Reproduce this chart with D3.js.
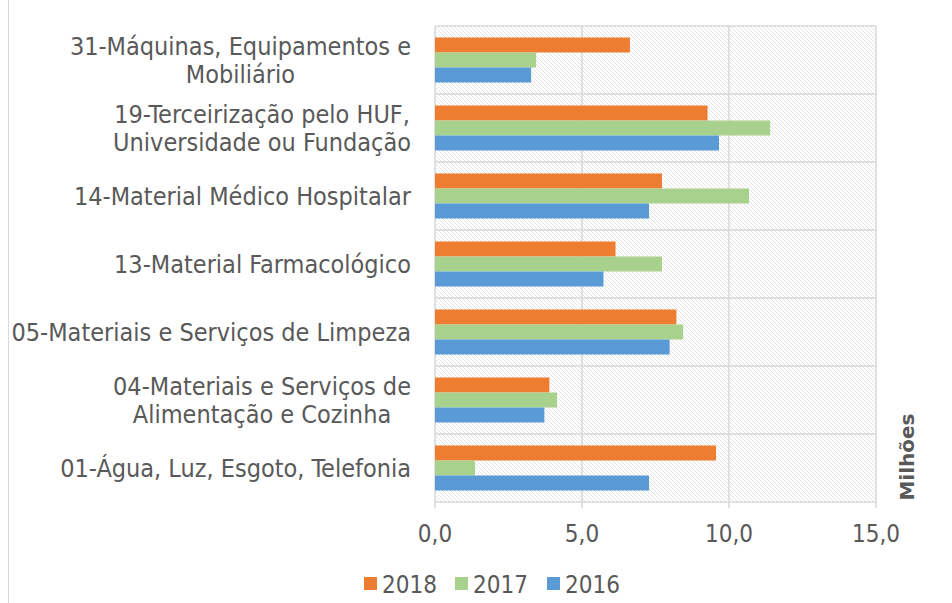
<!DOCTYPE html>
<meta charset="utf-8">
<html>
<head>
  <script src="https://d3js.org/d3.v7.min.js"></script>
  <style>
    body { margin: 0; background: #fff; }
    text { font-family: 'DejaVu Sans Condensed', 'DejaVu Sans', sans-serif; font-stretch: condensed; fill: #595959; }
    .title { font-family: 'DejaVu Sans', sans-serif; font-stretch: normal; }
    .grid line { stroke: #d9d9d9; stroke-width: 1.5; }
  </style>
</head>
<body>
  <script>
    // Categories, top to bottom
    var categories = [
      ['31-Máquinas, Equipamentos e', 'Mobiliário'],
      ['19-Terceirização pelo HUF,', 'Universidade ou Fundação'],
      ['14-Material Médico Hospitalar'],
      ['13-Material Farmacológico'],
      ['05-Materiais e Serviços de Limpeza'],
      ['04-Materiais e Serviços de', 'Alimentação e Cozinha'],
      ['01-Água, Luz, Esgoto, Telefonia']
    ];
    var series = ['2018', '2017', '2016'];
    var colors = ['#ED7D31', '#A9D18E', '#5B9BD5'];
    // values in millions, same order as categories
    var v2018 = [6.63, 9.27, 7.72, 6.14, 8.21, 3.89, 9.56];
    var v2017 = [3.44, 11.40, 10.68, 7.72, 8.44, 4.15, 1.36];
    var v2016 = [3.27, 9.66, 7.28, 5.73, 7.98, 3.72, 7.28];
    var xTicks = [0, 5, 10, 15];

    var values = [v2018, v2017, v2016];
    var W = 952, H = 603;
    var pl = 435, pr = 876, pt = 26, pb = 502;

    var svg = d3.select('body').append('svg')
      .attr('width', W).attr('height', H);

    // outer chart border
    svg.append('rect')
      .attr('x', 8.5).attr('y', -2).attr('width', W).attr('height', H + 4)
      .attr('fill', 'none').attr('stroke', '#d9d9d9').attr('stroke-width', 1);

    // hatch pattern
    var pat = svg.append('defs').append('pattern')
      .attr('id', 'hatch')
      .attr('patternUnits', 'userSpaceOnUse')
      .attr('width', 4).attr('height', 4);
    pat.append('rect').attr('width', 4).attr('height', 4).attr('fill', '#fff');
    pat.append('path')
      .attr('d', 'M-1,-1 L5,5 M-1,3 L1,5 M3,-1 L5,1')
      .attr('stroke', '#e3e3e3').attr('stroke-width', 1);

    var x = d3.scaleLinear().domain([0, 15]).range([pl, pr]);
    var y = d3.scaleBand().domain(d3.range(categories.length)).range([pt, pb]);
    var yi = d3.scaleBand().domain(series).range([0, y.bandwidth()])
      .paddingInner(0).paddingOuter(0.767);

    svg.append('rect')
      .attr('x', pl).attr('y', pt)
      .attr('width', pr - pl).attr('height', pb - pt)
      .attr('fill', 'url(#hatch)');

    // gridlines
    var grid = svg.append('g').attr('class', 'grid');
    grid.selectAll('.v').data(xTicks).enter().append('line')
      .attr('x1', d => x(d)).attr('x2', d => x(d))
      .attr('y1', pt).attr('y2', pb + 6);
    grid.selectAll('.h').data(d3.range(categories.length + 1)).enter().append('line')
      .attr('x1', pl).attr('x2', pr)
      .attr('y1', d => pt + d * y.step()).attr('y2', d => pt + d * y.step());

    // bars
    series.forEach(function (s, si) {
      svg.append('g').selectAll('rect')
        .data(values[si]).enter().append('rect')
        .attr('x', x(0))
        .attr('y', (d, i) => y(i) + yi(s))
        .attr('width', d => x(d) - x(0))
        .attr('height', yi.bandwidth())
        .attr('fill', colors[si]);
    });

    // x axis labels
    svg.append('g').selectAll('text').data(xTicks).enter().append('text')
      .attr('x', d => x(d)).attr('y', 542)
      .attr('text-anchor', 'middle')
      .style('font-size', '24px')
      .text(d => d3.format('.1f')(d).replace('.', ','));

    // category labels
    var labelRight = 411, lineH = 28;
    categories.forEach(function (lines, i) {
      var g = svg.append('g');
      var cy = y(i) + y.bandwidth() / 2;
      var ts = lines.map(function (t, j) {
        return g.append('text')
          .attr('y', cy + (j - (lines.length - 1) / 2) * lineH)
          .attr('dy', '0.35em')
          .attr('text-anchor', 'middle')
          .style('font-size', '25px')
          .text(t);
      });
      var maxW = d3.max(ts, t => t.node().getComputedTextLength());
      ts.forEach(t => t.attr('x', labelRight - maxW / 2));
    });

    // axis title
    svg.append('text')
      .attr('class', 'title')
      .attr('transform', 'translate(914,457) rotate(-90)')
      .attr('text-anchor', 'middle')
      .style('font-size', '20px').style('font-weight', 'bold')
      .text('Milhões');

    // legend
    var legX = [364, 455, 547];
    var leg = svg.append('g').selectAll('g').data(series).enter().append('g')
      .attr('transform', (d, i) => `translate(${legX[i]},577)`);
    leg.append('rect').attr('width', 13).attr('height', 13)
      .attr('fill', (d, i) => colors[i]);
    leg.append('text').attr('x', 18).attr('y', 16)
      .style('font-size', '24px').text(d => d);
  </script>
</body>
</html>
